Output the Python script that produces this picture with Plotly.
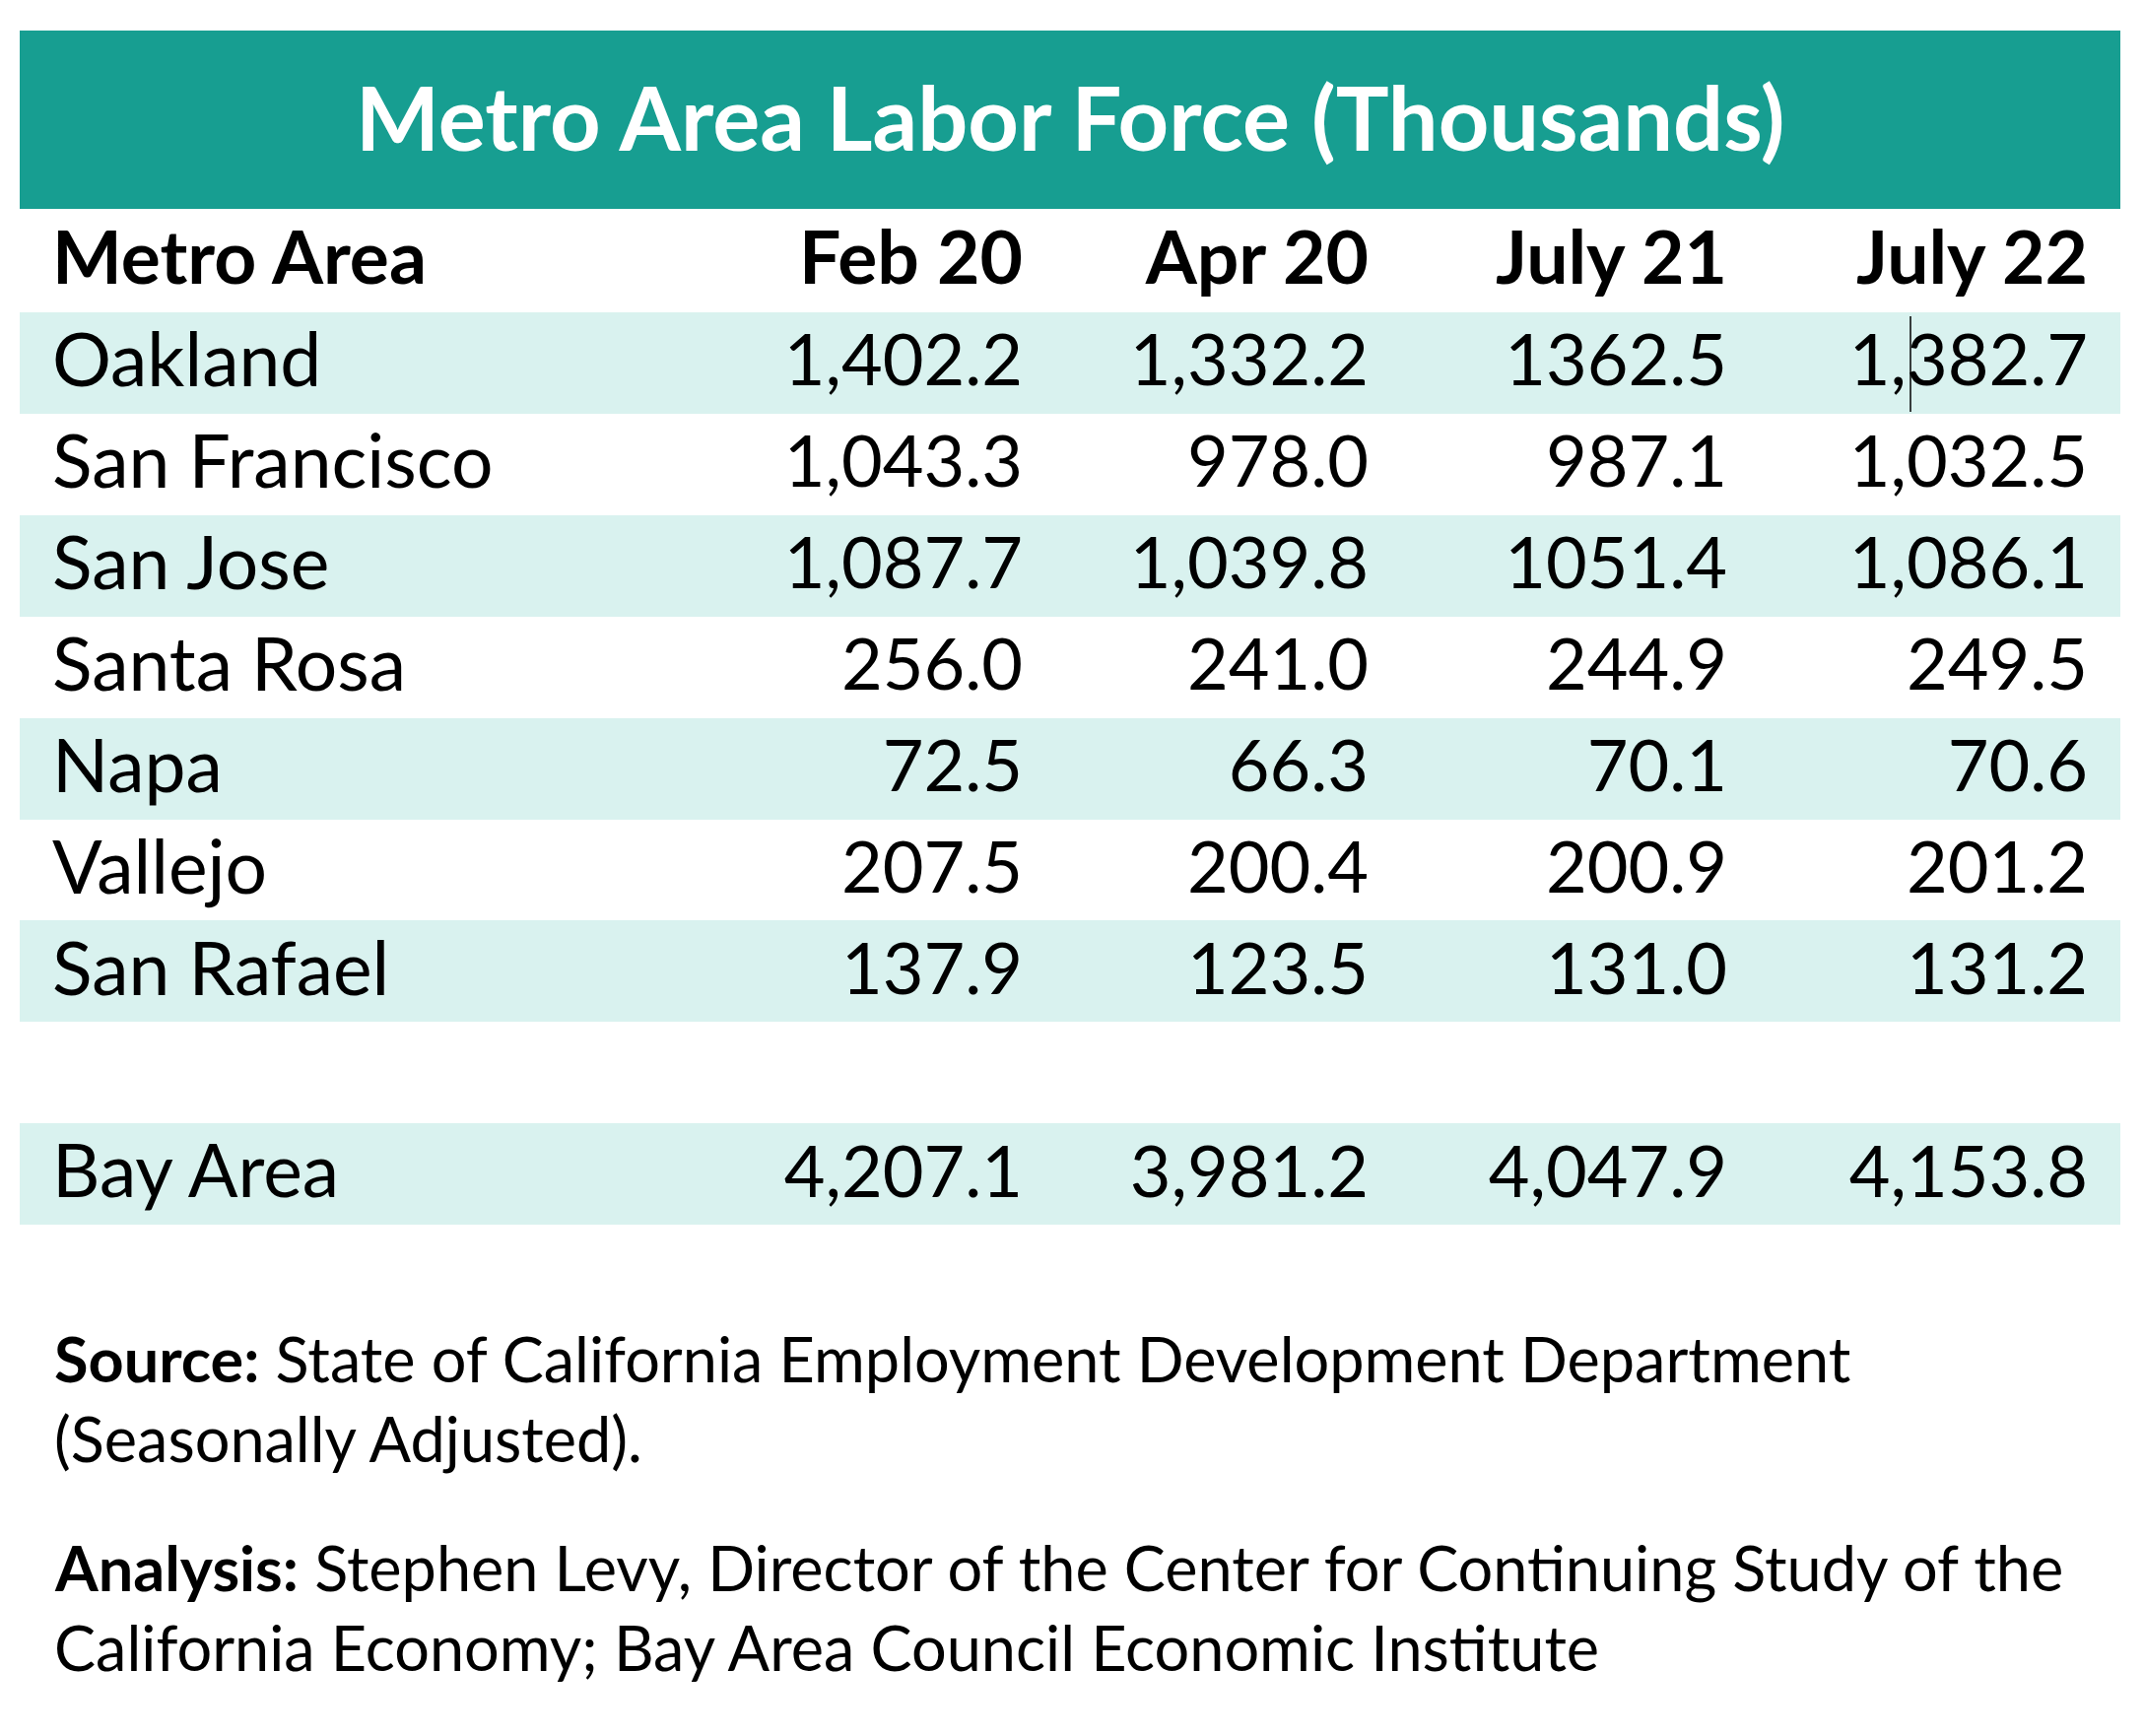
import plotly.graph_objects as go

# ---------------- data ----------------
title_text = "Metro Area Labor Force (Thousands)"
col_labels = ["Metro Area", "Feb 20", "Apr 20", "July 21", "July 22"]
metro = ["Oakland", "San Francisco", "San Jose", "Santa Rosa", "Napa", "Vallejo", "San Rafael"]
feb20 = [1402.2, 1043.3, 1087.7, 256.0, 72.5, 207.5, 137.9]
apr20 = [1332.2, 978.0, 1039.8, 241.0, 66.3, 200.4, 123.5]
jul21 = [1362.5, 987.1, 1051.4, 244.9, 70.1, 200.9, 131.0]
jul22 = [1382.7, 1032.5, 1086.1, 249.5, 70.6, 201.2, 131.2]
total_label = "Bay Area"
total = [4207.1, 3981.2, 4047.9, 4153.8]
source_line1 = "<b>Source:</b> State of California Employment Development Department"
source_line2 = "(Seasonally Adjusted)."
analysis_line1 = "<b>Analysis:</b> Stephen Levy, Director of the Center for Continuing Study of the"
analysis_line2 = "California Economy; Bay Area Council Economic Institute"

# ---------------- style / layout (page pixel grid) ----------------
W, H = 2176, 1762
PAGE_MARGIN = 8                      # browser body margin
TEAL = "#179E91"
BAND = "#D9F2EF"
WHITE = "#FFFFFF"
FONT = "Lato"
BAND_LEFT, BAND_RIGHT = 20, 2152
TITLE_TOP, TITLE_BOTTOM = 31, 212
HEADER_BOTTOM = 317
ROW_H = 102.9
TEXT_SHIFT = 6
LABEL_X = 53
NUM_RIGHT = [1038, 1389, 1753, 2119]
TITLE_X, TITLE_Y = 1086, 118
FOOT_Y = [1378, 1459, 1590, 1671]


def fmt(v, comma=True):
    return f"{v:,.1f}" if comma else f"{v:.1f}"


row_labels = metro + ["", total_label]
value_cols = [
    [fmt(v) for v in feb20] + ["", fmt(total[0])],
    [fmt(v) for v in apr20] + ["", fmt(total[1])],
    [fmt(v, comma=False) for v in jul21] + ["", fmt(total[2])],
    [fmt(v) for v in jul22] + ["", fmt(total[3])],
]
n_rows = len(row_labels)
band_y = [HEADER_BOTTOM + ROW_H * (i + 0.5) for i in range(n_rows)]
row_y = [y + TEXT_SHIFT - 1 for y in band_y]
row_fill = [BAND if i % 2 == 0 else WHITE for i in range(n_rows)]
header_y = (TITLE_BOTTOM + HEADER_BOTTOM) / 2 + TEXT_SHIFT - 1

fig = go.Figure()

# row bands
fig.add_trace(go.Bar(
    orientation="h", y=band_y, x=[BAND_RIGHT - BAND_LEFT] * n_rows, base=BAND_LEFT,
    width=ROW_H, marker=dict(color=row_fill, line=dict(width=0)),
    hoverinfo="skip",
))

# header row
fig.add_trace(go.Scatter(
    x=[LABEL_X], y=[header_y], mode="text", text=[f"<b>{col_labels[0]}</b>"],
    textposition="middle right", textfont=dict(family=FONT, size=75, color="black"),
    hoverinfo="skip",
))
fig.add_trace(go.Scatter(
    x=NUM_RIGHT, y=[header_y] * 4, mode="text", text=[f"<b>{c}</b>" for c in col_labels[1:]],
    textposition="middle left", textfont=dict(family=FONT, size=75, color="black"),
    hoverinfo="skip",
))

# metro names
fig.add_trace(go.Scatter(
    x=[LABEL_X] * n_rows, y=row_y, mode="text", text=row_labels,
    textposition="middle right", textfont=dict(family=FONT, size=75, color="black"),
    hoverinfo="skip",
))

# values
for xr, col in zip(NUM_RIGHT, value_cols):
    fig.add_trace(go.Scatter(
        x=[xr] * n_rows, y=row_y, mode="text", text=col,
        textposition="middle left", textfont=dict(family=FONT, size=72, color="black"),
        hoverinfo="skip",
    ))

shapes = [
    dict(type="rect", xref="x", yref="y",
         x0=BAND_LEFT, x1=BAND_RIGHT, y0=TITLE_TOP, y1=TITLE_BOTTOM,
         fillcolor=TEAL, line=dict(width=0), layer="below"),
    dict(type="line", xref="x", yref="y", x0=1939, x1=1939, y0=321, y1=418,
         line=dict(color="black", width=1.5)),
]

annotations = [
    dict(text=f"<b>{title_text}</b>", x=TITLE_X, y=TITLE_Y, xref="x", yref="y",
         xanchor="center", yanchor="middle", showarrow=False,
         font=dict(family=FONT, size=90, color=WHITE)),
]
for txt, yc in zip([source_line1, source_line2, analysis_line1, analysis_line2], FOOT_Y):
    annotations.append(dict(text=txt, x=LABEL_X, y=yc, xref="x", yref="y",
                            xanchor="left", yanchor="middle", showarrow=False,
                            font=dict(family=FONT, size=63, color="black")))

fig_w, fig_h = W - 2 * PAGE_MARGIN, H - 2 * PAGE_MARGIN
fig.update_layout(
    width=fig_w, height=fig_h,
    margin=dict(l=0, r=0, t=0, b=0),
    paper_bgcolor=WHITE, plot_bgcolor=WHITE,
    xaxis=dict(range=[PAGE_MARGIN, PAGE_MARGIN + fig_w], visible=False, fixedrange=True),
    yaxis=dict(range=[PAGE_MARGIN + fig_h, PAGE_MARGIN], visible=False, fixedrange=True),
    shapes=shapes, annotations=annotations,
    showlegend=False, bargap=0,
)

fig.write_html("out.html", config=dict(displayModeBar=False))
